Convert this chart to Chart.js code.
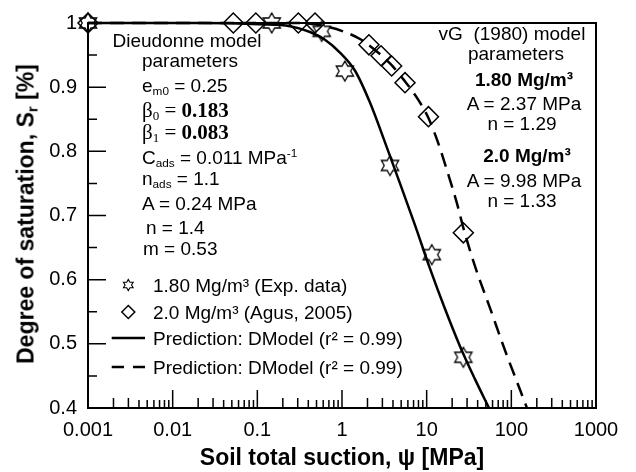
<!DOCTYPE html>
<html><head><meta charset="utf-8">
<script src="https://cdn.jsdelivr.net/npm/chart.js@4.4.1/dist/chart.umd.min.js"></script>
<style>
html,body{margin:0;padding:0;background:#fff;}
#wrap{position:relative;width:636px;height:472px;overflow:hidden;}
#c{position:absolute;left:0;top:0;}
.t{position:absolute;font-family:"Liberation Sans",Arial,sans-serif;font-size:19px;color:#000;white-space:nowrap;line-height:1;}
.cx{transform:translate(-50%,-50%);}
.ly{transform:translateY(-50%);}
.serif{font-family:"Liberation Serif","Times New Roman",serif;font-size:21px;}
.b{font-weight:bold;}
sub,sup{font-size:0.62em;line-height:0;}
sub{vertical-align:-0.3em;}
sup{vertical-align:0.55em;}
#ytitle{position:absolute;left:26px;top:214px;transform:translate(-50%,-50%) rotate(-90deg);font-family:"Liberation Sans",Arial,sans-serif;font-weight:bold;font-size:23px;white-space:nowrap;line-height:1;}
#ytitle sub{font-size:0.65em;vertical-align:-0.25em;}
</style></head><body>
<div id="wrap">
<canvas id="c" width="636" height="472"></canvas>
<div id="ytitle">Degree of saturation, S<sub>r</sub> [%]</div>

<div class="t cx" style="left:187px;top:40px;">Dieudonne model</div>
<div class="t cx" style="left:190px;top:60px;">parameters</div>
<div class="t ly" style="left:142px;top:85px;">e<sub>m0</sub> = 0.25</div>
<div class="t ly serif" style="left:142px;top:110px;">β<sub>0</sub> = <span class="b">0.183</span></div>
<div class="t ly serif" style="left:142px;top:132px;">β<sub>1</sub> = <span class="b">0.083</span></div>
<div class="t ly" style="left:142px;top:157px;">C<sub>ads</sub> = 0.011 MPa<sup>-1</sup></div>
<div class="t ly" style="left:142px;top:178px;">n<sub>ads</sub> = 1.1</div>
<div class="t ly" style="left:142px;top:203px;">A = 0.24 MPa</div>
<div class="t ly" style="left:146px;top:227px;">n = 1.4</div>
<div class="t ly" style="left:143px;top:248px;">m = 0.53</div>

<div class="t cx" style="left:512px;top:33px;">vG&nbsp; (1980) model</div>
<div class="t cx" style="left:516px;top:53px;">parameters</div>
<div class="t cx b" style="left:524px;top:79px;">1.80 Mg/m³</div>
<div class="t cx" style="left:524px;top:103px;">A = 2.37 MPa</div>
<div class="t cx" style="left:522px;top:123px;">n = 1.29</div>
<div class="t cx b" style="left:527px;top:155px;">2.0 Mg/m³</div>
<div class="t cx" style="left:524px;top:180px;">A = 9.98 MPa</div>
<div class="t cx" style="left:522px;top:200px;">n = 1.33</div>
<div id="legend"></div>
</div>
<script>
// ---- data ----
const seriesNames = ['1.80 Mg/m³ (Exp. data)', '2.0 Mg/m³ (Agus, 2005)', 'Prediction: DModel (r² = 0.99)', 'Prediction: DModel (r² = 0.99)'];

const suction180 = [0.001, 0.148, 0.575, 1.08, 3.69, 11.5, 27.1];
const sat180     = [1.0,   1.0,   0.987, 0.925, 0.778, 0.639, 0.479];

const suction200 = [0.001, 0.052, 0.096, 0.305, 0.48, 2.08, 2.89, 3.86, 5.55, 10.5, 27.1];
const sat200     = [1.0,   1.0,   1.0,   1.0,   1.0,  0.966, 0.949, 0.933, 0.907, 0.854, 0.673];

const predSuction180 = [0.001, 0.021, 0.107, 0.243, 0.419, 0.629, 0.946, 1.42, 2.14, 3.22, 4.84, 7.28, 10.9, 16.4, 24.8, 37.2, 54.5];
const predSat180     = [1.0,   1.0,   0.998, 0.995, 0.986, 0.974, 0.954, 0.926, 0.876, 0.814, 0.750, 0.685, 0.618, 0.555, 0.496, 0.445, 0.400];

const predSuction200 = [0.001, 0.319, 0.629, 1.08, 1.63, 2.45, 3.69, 5.55, 7.90, 10.4, 13.6, 17.9, 22.8, 27.6, 37.2, 55.9, 84.1, 127, 153];
const predSat200     = [1.0,   1.0,   0.995, 0.986, 0.975, 0.958, 0.937, 0.909, 0.881, 0.853, 0.814, 0.765, 0.719, 0.677, 0.621, 0.556, 0.490, 0.428, 0.400];

const xTickValues = [0.001, 0.01, 0.1, 1, 10, 100, 1000];
const xTickLabels = ['0.001', '0.01', '0.1', '1', '10', '100', '1000'];
const yTickValues = [0.4, 0.5, 0.6, 0.7, 0.8, 0.9, 1.0];
const yTickLabels = ['0.4', '0.5', '0.6', '0.7', '0.8', '0.9', '1'];

const xTitle = 'Soil total suction, ψ [MPa]';

// ---- drawing ----
const FONT = '"Liberation Sans", Arial, sans-serif';
function zip(a, b) { return a.map((v, i) => ({x: v, y: b[i]})); }

function starPath(g, cx, cy, R) {
  const r = R / Math.sqrt(3);
  g.beginPath();
  for (let k = 0; k < 12; k++) {
    const ang = -Math.PI / 2 + k * Math.PI / 6;
    const rad = (k % 2 === 0) ? R : r;
    const px = cx + rad * Math.cos(ang), py = cy + rad * Math.sin(ang);
    if (k) g.lineTo(px, py); else g.moveTo(px, py);
  }
  g.closePath();
}
function makeStar(size, R, lw) {
  const c = document.createElement('canvas');
  c.width = c.height = size;
  const g = c.getContext('2d');
  starPath(g, size / 2, size / 2, R);
  g.lineWidth = lw; g.strokeStyle = '#000'; g.stroke();
  return c;
}
const starImg = makeStar(26, 10, 1.3);

const frameTicks = {
  id: 'frameTicks',
  afterDraw(chart) {
    const {ctx, chartArea: a, scales: {x, y}} = chart;
    ctx.save();
    ctx.strokeStyle = '#000';
    ctx.lineWidth = 1.5;
    ctx.beginPath();
    yTickValues.forEach(v => { const p = y.getPixelForValue(v); ctx.moveTo(a.left, p); ctx.lineTo(a.left + 18, p); });
    for (let i = 0; i < yTickValues.length - 1; i++) {
      const p = y.getPixelForValue((yTickValues[i] + yTickValues[i + 1]) / 2);
      ctx.moveTo(a.left, p); ctx.lineTo(a.left + 9, p);
    }
    xTickValues.forEach(v => { const p = x.getPixelForValue(v); ctx.moveTo(p, a.bottom); ctx.lineTo(p, a.bottom - 18); });
    for (let i = 0; i < xTickValues.length - 1; i++) {
      for (let k = 2; k <= 9; k++) {
        const p = x.getPixelForValue(xTickValues[i] * k);
        ctx.moveTo(p, a.bottom); ctx.lineTo(p, a.bottom - (k <= 3 ? 10 : 8));
      }
    }
    ctx.stroke();
    ctx.lineWidth = 2;
    ctx.strokeRect(a.left, a.top, a.right - a.left, a.bottom - a.top);
    ctx.restore();
  }
};

const chart = new Chart(document.getElementById('c'), {
  type: 'scatter',
  data: {
    datasets: [
      {label: seriesNames[2], data: zip(predSuction180, predSat180), showLine: true, borderColor: '#000', borderWidth: 2.5, pointRadius: 0, cubicInterpolationMode: 'monotone', clip: false},
      {label: seriesNames[3], data: zip(predSuction200, predSat200), showLine: true, borderColor: '#000', borderWidth: 2.5, borderDash: [14, 8], pointRadius: 0, cubicInterpolationMode: 'monotone', clip: false},
      {label: seriesNames[0], data: zip(suction180, sat180), showLine: false, pointStyle: starImg, pointRadius: 10, clip: false},
      {label: seriesNames[1], data: zip(suction200, sat200), showLine: false, pointStyle: 'rectRot', pointRadius: 10, borderColor: '#000', borderWidth: 1.5, backgroundColor: 'rgba(0,0,0,0)', clip: false}
    ]
  },
  options: {
    responsive: false, animation: false, devicePixelRatio: 1,
    layout: {padding: {left: 0, top: 20, right: 40, bottom: 0}},
    plugins: {legend: {display: false}, tooltip: {enabled: false}},
    scales: {
      x: {
        type: 'logarithmic', min: 0.001, max: 1000,
        afterFit(s) { s.height = 64; },
        afterBuildTicks(s) { s.ticks = xTickValues.map(v => ({value: v})); },
        grid: {display: false, drawTicks: false}, border: {display: false},
        ticks: {autoSkip: false, maxRotation: 0, padding: 10, color: '#000', font: {family: FONT, size: 20}, callback: (v, i) => xTickLabels[i]},
        title: {display: true, text: xTitle, color: '#000', font: {family: FONT, size: 23, weight: 'bold'}, padding: {top: 0, bottom: 0}}
      },
      y: {
        min: 0.4, max: 1.0,
        afterFit(s) { s.width = 88; },
        afterBuildTicks(s) { s.ticks = yTickValues.map(v => ({value: v})); },
        grid: {display: false, drawTicks: false}, border: {display: false},
        ticks: {padding: 11, color: '#000', font: {family: FONT, size: 20}, callback: (v, i) => yTickLabels[i]}
      }
    }
  },
  plugins: [frameTicks]
});

// ---- legend (HTML, built from the datasets) ----
const legendRows = [
  {ds: 2, kind: 'star', cy: 285},
  {ds: 3, kind: 'diamond', cy: 312},
  {ds: 0, kind: 'solid', cy: 338},
  {ds: 1, kind: 'dash', cy: 367}
];
const leg = document.getElementById('legend');
legendRows.forEach(r => {
  const sym = document.createElement('canvas');
  sym.width = 40; sym.height = 20;
  sym.style.cssText = 'position:absolute;left:108px;top:' + (r.cy - 10) + 'px;';
  const g = sym.getContext('2d');
  g.strokeStyle = '#000';
  if (r.kind === 'star') { starPath(g, 20.3, 10, 5.6); g.lineWidth = 1.1; g.stroke(); }
  else if (r.kind === 'diamond') { g.beginPath(); g.moveTo(20.3, 3.5); g.lineTo(26.8, 10); g.lineTo(20.3, 16.5); g.lineTo(13.8, 10); g.closePath(); g.lineWidth = 1.5; g.stroke(); }
  else {
    g.lineWidth = 2.5; g.beginPath();
    if (r.kind === 'dash') { g.moveTo(3.7, 10); g.lineTo(16, 10); g.moveTo(25, 10); g.lineTo(37, 10); }
    else { g.moveTo(3.7, 10); g.lineTo(37, 10); }
    g.stroke();
  }
  leg.appendChild(sym);
  const t = document.createElement('div');
  t.className = 't ly';
  t.style.left = '153px'; t.style.top = r.cy + 'px';
  t.textContent = chart.data.datasets[r.ds].label;
  leg.appendChild(t);
});
</script>
</body></html>
